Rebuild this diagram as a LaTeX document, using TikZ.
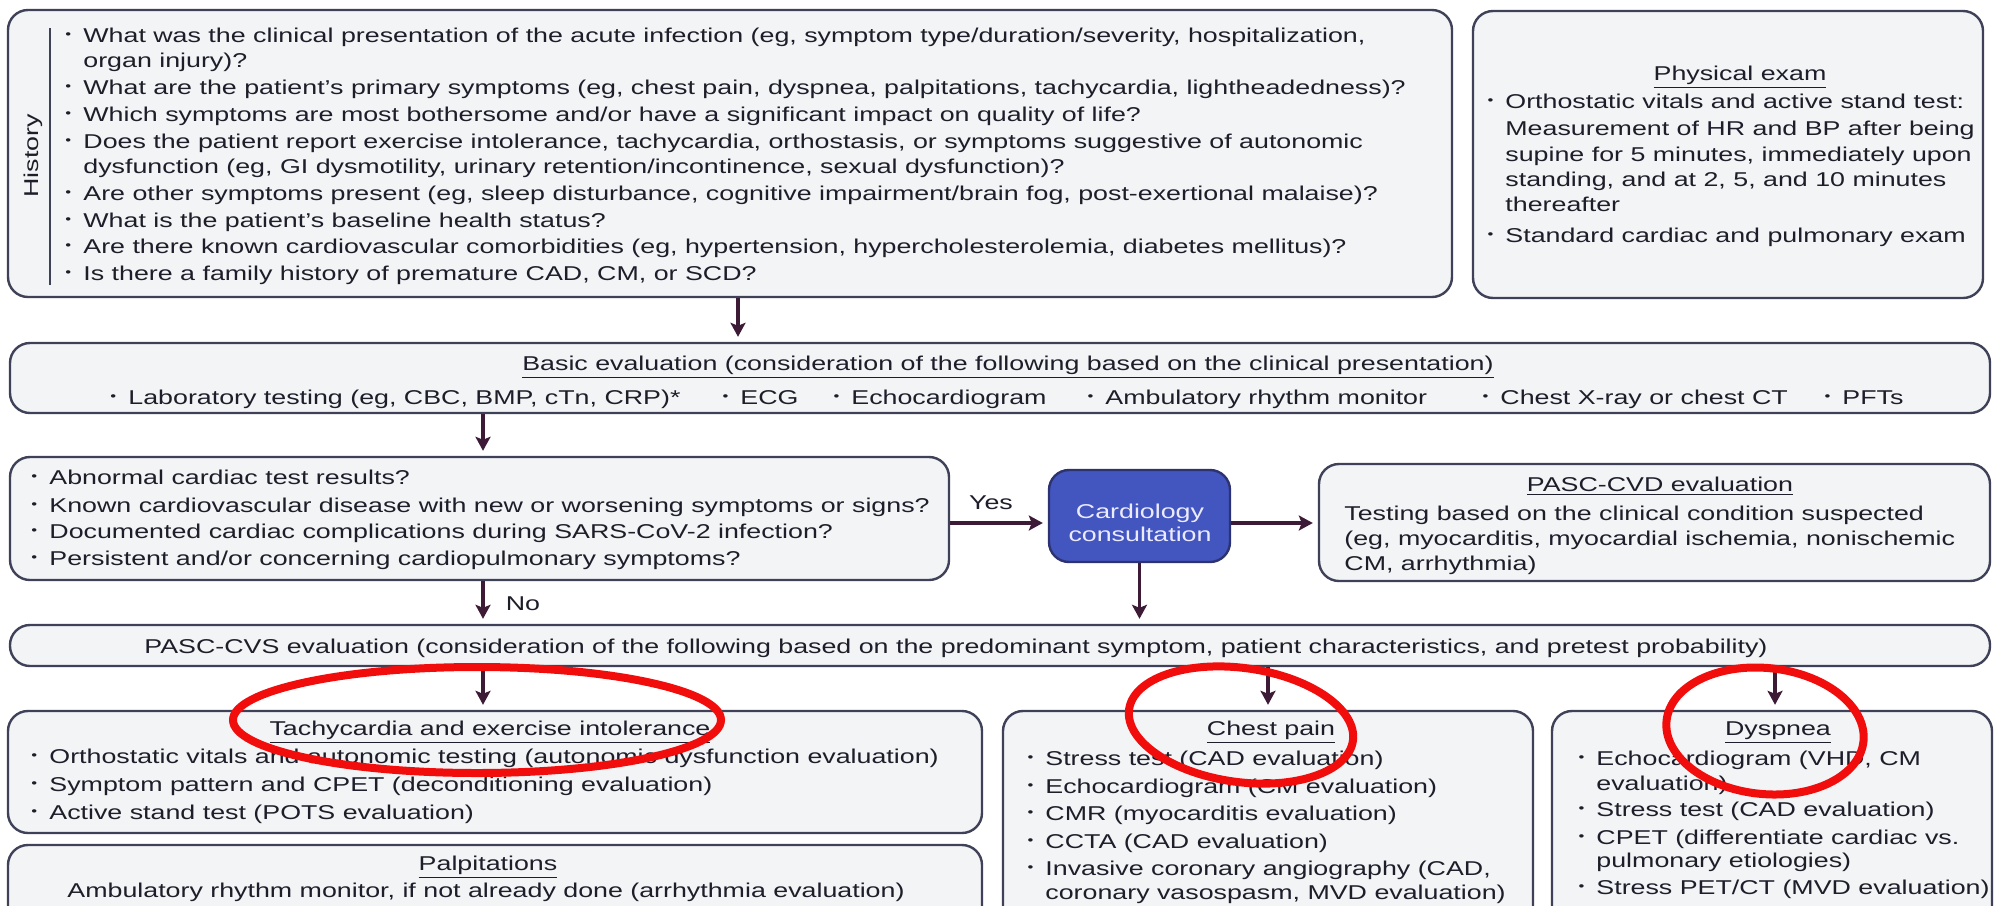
\documentclass[tikz,border=0pt]{standalone}
\usepackage{fontspec}
\setmainfont{Liberation Sans}[FakeStretch=1.34]
\usetikzlibrary{fit,arrows.meta}

\definecolor{boxfill}{HTML}{F3F4F6}
\definecolor{boxline}{HTML}{3E4157}
\definecolor{arrowc}{HTML}{3D1A36}
\definecolor{cardfill}{HTML}{4355BF}
\definecolor{cardline}{HTML}{2C3370}
\definecolor{textc}{HTML}{1E1E2A}
\definecolor{markred}{HTML}{F20D0D}

\newcommand\mainsize{\fontsize{10}{12}\selectfont}
\newcommand\bul{\makebox[0pt][c]{\raisebox{0.2em}{\scalebox{0.62}{•}}}}

\newcounter{ln}
% text line: left x, visual centre y, content
\newcommand\tl[3]{\stepcounter{ln}\node[txt] (ln\arabic{ln}) at (#1,{#2+7}) {#3};}
% bulleted line
\newcommand\bl[3]{\tl{#1}{#2}{\llap{\bul\hspace{7.5pt}}#3}}
% centred line, optionally underlined
\newcommand\ctr[3]{\stepcounter{ln}\node[txt,anchor=base] (ln\arabic{ln}) at (#1,{#2+7}) {#3};}

\tikzset{
  box/.style={draw=boxline, fill=boxfill, line width=1.2pt, rounded corners=10pt, inner sep=0pt},
  txt/.style={inner sep=0pt, anchor=base west, text=textc, font=\mainsize},
  arr/.style={draw=arrowc, line width=1.6pt, -{Stealth[length=7pt,width=7.5pt,inset=1.5pt]}, shorten >=2.5pt},
  ring/.style={draw=markred, line width=4pt},
}

\begin{document}
\begin{tikzpicture}[x=0.5pt,y=-0.5pt]
\useasboundingbox (0,0) rectangle (1995,905);
\clip (0,0) rectangle (1995,905);

% ---------- boxes ----------
\node[box, fit={(8,10) (1452,297)}] (hist) {};
\node[box, fit={(1473,11) (1983,298)}] (phys) {};
\node[box, fit={(10,343) (1990,413)}] (basic) {};
\node[box, fit={(10,457) (949,580)}] (quest) {};
\node[draw=cardline, fill=cardfill, line width=1.2pt, rounded corners=10pt, inner sep=0pt,
      fit={(1049,470) (1230,562)}] (card) {};
\node[box, fit={(1319,464) (1990,581)}] (cvd) {};
\node[box, fit={(10,625) (1990,666)}] (cvs) {};
\node[box, fit={(8,711) (982,833)}] (tachy) {};
\node[box, fit={(8,845) (982,930)}] (palp) {};
\node[box, fit={(1003,711) (1533,930)}] (chest) {};
\node[box, fit={(1552,711) (1992,930)}] (dysp) {};

% ---------- history ----------
\node[txt, anchor=center, rotate=90] (histlabel) at (33,156) {History};
\coordinate (hbartop) at (50,28);
\coordinate (hbarbot) at (50,285);
\draw[boxline, line width=1pt] (hbartop) -- (hbarbot);
\bl{83}{35}{What was the clinical presentation of the acute infection (eg, symptom type/duration/severity, hospitalization,}
\tl{83}{60}{organ injury)?}
\bl{83}{87}{What are the patient’s primary symptoms (eg, chest pain, dyspnea, palpitations, tachycardia, lightheadedness)?}
\bl{83}{114}{Which symptoms are most bothersome and/or have a significant impact on quality of life?}
\bl{83}{141}{Does the patient report exercise intolerance, tachycardia, orthostasis, or symptoms suggestive of autonomic}
\tl{83}{166}{dysfunction (eg, GI dysmotility, urinary retention/incontinence, sexual dysfunction)?}
\bl{83}{193}{Are other symptoms present (eg, sleep disturbance, cognitive impairment/brain fog, post-exertional malaise)?}
\bl{83}{220}{What is the patient’s baseline health status?}
\bl{83}{246}{Are there known cardiovascular comorbidities (eg, hypertension, hypercholesterolemia, diabetes mellitus)?}
\bl{83}{273}{Is there a family history of premature CAD, CM, or SCD?}

% ---------- physical exam ----------
\ctr{1740}{73}{\underline{Physical exam}}
\bl{1505}{101}{Orthostatic vitals and active stand test:}
\tl{1505}{128}{Measurement of HR and BP after being}
\tl{1505}{154}{supine for 5 minutes, immediately upon}
\tl{1505}{179}{standing, and at 2, 5, and 10 minutes}
\tl{1505}{204}{thereafter}
\bl{1505}{235}{Standard cardiac and pulmonary exam}

% ---------- basic evaluation ----------
\ctr{1008}{363}{\underline{Basic evaluation (consideration of the following based on the clinical presentation)}}
\bl{128}{397}{Laboratory testing (eg, CBC, BMP, cTn, CRP)*}
\bl{740}{397}{ECG}
\bl{851}{397}{Echocardiogram}
\bl{1105}{397}{Ambulatory rhythm monitor}
\bl{1500}{397}{Chest X-ray or chest CT}
\bl{1842}{397}{PFTs}

% ---------- screening questions ----------
\bl{49}{477}{Abnormal cardiac test results?}
\bl{49}{505}{Known cardiovascular disease with new or worsening symptoms or signs?}
\bl{49}{531}{Documented cardiac complications during SARS-CoV-2 infection?}
\bl{49}{558}{Persistent and/or concerning cardiopulmonary symptoms?}

% ---------- cardiology ----------
\node[inner sep=0pt, anchor=base, text=white!92!blue, font=\fontsize{10}{12}\selectfont] (cardl1) at (1140,518) {Cardiology};
\node[inner sep=0pt, anchor=base, text=white!92!blue, font=\fontsize{10}{12}\selectfont] (cardl2) at (1140,541) {consultation};

% ---------- PASC-CVD ----------
\ctr{1660}{484}{\underline{PASC-CVD evaluation}}
\tl{1344}{513}{Testing based on the clinical condition suspected}
\tl{1344}{538}{(eg, myocarditis, myocardial ischemia, nonischemic}
\tl{1344}{563}{CM, arrhythmia)}

% ---------- PASC-CVS ----------
\ctr{956}{646}{PASC-CVS evaluation (consideration of the following based on the predominant symptom, patient characteristics, and pretest probability)}

% ---------- tachycardia ----------
\ctr{490}{728}{\underline{Tachycardia and exercise intolerance}}
\bl{49}{756}{Orthostatic vitals and autonomic testing (autonomic dysfunction evaluation)}
\bl{49}{784}{Symptom pattern and CPET (deconditioning evaluation)}
\bl{49}{812}{Active stand test (POTS evaluation)}

% ---------- palpitations ----------
\ctr{488}{863}{\underline{Palpitations}}
\ctr{486}{890}{Ambulatory rhythm monitor, if not already done (arrhythmia evaluation)}

% ---------- chest pain ----------
\ctr{1271}{728}{\underline{Chest pain}}
\bl{1045}{758}{Stress test (CAD evaluation)}
\bl{1045}{786}{Echocardiogram (CM evaluation)}
\bl{1045}{813}{CMR (myocarditis evaluation)}
\bl{1045}{841}{CCTA (CAD evaluation)}
\bl{1045}{868}{Invasive coronary angiography (CAD,}
\tl{1045}{892}{coronary vasospasm, MVD evaluation)}

% ---------- dyspnea ----------
\ctr{1778}{728}{\underline{Dyspnea}}
\bl{1596}{758}{Echocardiogram (VHD, CM}
\tl{1596}{783}{evaluation)}
\bl{1596}{809}{Stress test (CAD evaluation)}
\bl{1596}{837}{CPET (differentiate cardiac vs.}
\tl{1596}{860}{pulmonary etiologies)}
\bl{1596}{887}{Stress PET/CT (MVD evaluation)}

% ---------- connectors ----------
\coordinate (xa) at (738,0);
\coordinate (xb) at (483,0);
\coordinate (xc) at (1268,0);
\coordinate (xd) at (1775,0);
\coordinate (yq) at (0,523);
\draw[arr] (xa |- hist.south) -- (xa |- basic.north);
\draw[arr] (xb |- basic.south) -- (xb |- quest.north);
\draw[arr] (quest.east |- yq) -- (card.west |- yq);
\draw[arr] (card.east |- yq) -- (cvd.west |- yq);
\draw[arr] (card.south) -- (card.south |- cvs.north);
\draw[arr] (xb |- quest.south) -- (xb |- cvs.north);
\draw[arr] (xb |- cvs.south) -- (xb |- tachy.north);
\draw[arr] (xc |- cvs.south) -- (xc |- chest.north);
\draw[arr] (xd |- cvs.south) -- (xd |- dysp.north);
\node[txt, anchor=base] (yes) at (991,509) {Yes};
\node[txt, anchor=base] (no) at (523,610) {No};

% ---------- red highlight rings ----------
\draw[ring] (477,720) ellipse [x radius=122pt, y radius=26.5pt];
\draw[ring, rotate around={-8:(1241,725)}] (1241,725) ellipse [x radius=56.5pt, y radius=28.5pt];
\draw[ring, rotate around={-6:(1765,731)}] (1765,731) ellipse [x radius=49.5pt, y radius=31.5pt];
\end{tikzpicture}
\end{document}
